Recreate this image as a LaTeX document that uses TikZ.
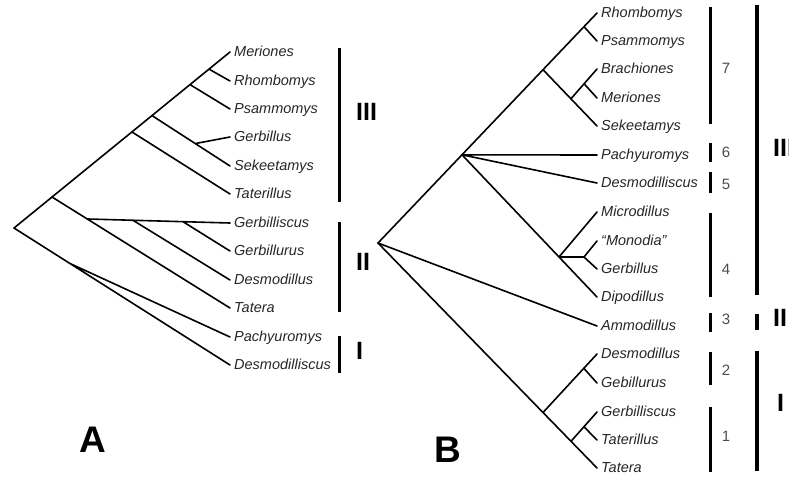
\documentclass[tikz,border=0pt]{standalone}
\usepackage{fontspec}
\setmainfont{Liberation Sans}
\usetikzlibrary{positioning}

\tikzset{
  branch/.style={line width=1.6pt, line cap=round},
  taxon/.style={anchor=west, inner xsep=4pt, inner ysep=0pt, text height=11pt, text depth=2pt,
    black!85, font=\fontsize{14.5}{16}\selectfont\itshape},
  cladebar/.style={line width=3pt},
  bigbar/.style={line width=4.5pt},
  cladename/.style={anchor=west, inner sep=0pt, font=\fontsize{25}{28}\selectfont\bfseries},
  groupnum/.style={inner sep=0pt, black!70, font=\fontsize{15}{17}\selectfont},
  panel/.style={inner sep=0pt, font=\fontsize{37}{40}\selectfont\bfseries}
}

\begin{document}
\begin{tikzpicture}[x=1pt, y=-1pt]
  \path[use as bounding box, clip] (0,0) rectangle (789,477);

  % Tree A: taxa
  \node[taxon] (aMer) at (230,52) {Meriones};
  \node[taxon] (aRho) at (230,81) {Rhombomys};
  \node[taxon] (aPsa) at (230,109) {Psammomys};
  \node[taxon] (aGer) at (230,137) {Gerbillus};
  \node[taxon] (aSek) at (230,166) {Sekeetamys};
  \node[taxon] (aTtl) at (230,194) {Taterillus};
  \node[taxon] (aGbs) at (230,223) {Gerbilliscus};
  \node[taxon] (aGbr) at (230,251) {Gerbillurus};
  \node[taxon] (aDes) at (230,280) {Desmodillus};
  \node[taxon] (aTat) at (230,308) {Tatera};
  \node[taxon] (aPac) at (230,337) {Pachyuromys};
  \node[taxon] (aDsc) at (230,365) {Desmodilliscus};

  % Tree A: joints
  \coordinate (A0) at (14,228);
  \coordinate (A1) at (52,197);
  \coordinate (A2) at (88,219);
  \coordinate (A3) at (133,220.3);
  \coordinate (A4) at (183,221.7);
  \coordinate (A5) at (132,132);
  \coordinate (A6) at (152,115.6);
  \coordinate (A7) at (195,143.6);
  \coordinate (A8) at (190,84.6);
  \coordinate (A9) at (209,69.1);
  \coordinate (A10) at (70,263.5);

  \draw[branch] (A0) -- (aMer.west) (A9) -- (aRho.west) (A8) -- (aPsa.west)
    (A6) -- (aSek.west) (A7) -- (aGer.west) (A5) -- (aTtl.west);
  \draw[branch] (A1) -- (aTat.west) (A2) -- (aGbs.west) (A3) -- (aDes.west)
    (A4) -- (aGbr.west);
  \draw[branch] (A0) -- (aDsc.west) (A10) -- (aPac.west);

  % Tree A: clades
  \draw[cladebar] (339,48) -- (339,202);
  \draw[cladebar] (339,222) -- (339,312);
  \draw[cladebar] (339,336) -- (339,373);
  \node[cladename] (aIII) at (356,112) {III};
  \node[cladename] (aII) at (356,262) {II};
  \node[cladename] (aI) at (356,351) {I};
  \node[panel] (panA) at (93,440) {A};

  % Tree B: taxa
  \node[taxon] (bRho) at (597,13) {Rhombomys};
  \node[taxon] (bPsa) at (597,41) {Psammomys};
  \node[taxon] (bBra) at (597,69) {Brachiones};
  \node[taxon] (bMer) at (597,98) {Meriones};
  \node[taxon] (bSek) at (597,126) {Sekeetamys};
  \node[taxon] (bPac) at (597,155) {Pachyuromys};
  \node[taxon] (bDsc) at (597,183) {Desmodilliscus};
  \node[taxon] (bMic) at (597,212) {Microdillus};
  \node[taxon] (bMon) at (597,241) {“Monodia”};
  \node[taxon] (bGer) at (597,269) {Gerbillus};
  \node[taxon] (bDip) at (597,297) {Dipodillus};
  \node[taxon] (bAmm) at (597,326) {Ammodillus};
  \node[taxon] (bDes) at (597,354) {Desmodillus};
  \node[taxon] (bGbr) at (597,383) {Gebillurus};
  \node[taxon] (bGbs) at (597,412) {Gerbilliscus};
  \node[taxon] (bTtl) at (597,440) {Taterillus};
  \node[taxon] (bTat) at (597,468) {Tatera};

  % Tree B: joints
  \coordinate (B0) at (378,243);
  \coordinate (B1) at (462,154.8);
  \coordinate (B2) at (543,69.7);
  \coordinate (B3) at (584,26.7);
  \coordinate (B4) at (571,98.7);
  \coordinate (B5) at (584,83.7);
  \coordinate (B6) at (559,257);
  \coordinate (B7) at (584,257);
  \coordinate (B8) at (543,412.5);
  \coordinate (B9) at (584,368.5);
  \coordinate (B10) at (571,441.3);
  \coordinate (B11) at (584,426.8);

  \draw[branch] (B0) -- (bRho.west) (B3) -- (bPsa.west) (B2) -- (bSek.west)
    (B4) -- (bBra.west) (B5) -- (bMer.west);
  \draw[branch] (B1) -- (bPac.west) (B1) -- (bDsc.west) (B1) -- (bDip.west)
    (B6) -- (bMic.west) (B6) -- (B7) (B7) -- (bMon.west) (B7) -- (bGer.west);
  \draw[branch] (B0) -- (bAmm.west);
  \draw[branch] (B0) -- (bTat.west) (B8) -- (bDes.west) (B9) -- (bGbr.west)
    (B10) -- (bGbs.west) (B11) -- (bTtl.west);

  % Tree B: numbered groups
  \draw[cladebar] (710,7) -- (710,124);
  \draw[cladebar] (710,143) -- (710,162);
  \draw[cladebar] (710,172) -- (710,193);
  \draw[cladebar] (710,213) -- (710,297);
  \draw[cladebar] (710,313) -- (710,332);
  \draw[cladebar] (710,352) -- (710,385);
  \draw[cladebar] (710,407) -- (710,472);
  \node[groupnum] (g7) at (726,68) {7};
  \node[groupnum] (g6) at (726,152) {6};
  \node[groupnum] (g5) at (726,184) {5};
  \node[groupnum] (g4) at (726,269) {4};
  \node[groupnum] (g3) at (726,319) {3};
  \node[groupnum] (g2) at (726,370) {2};
  \node[groupnum] (g1) at (726,436) {1};

  % Tree B: clades
  \draw[bigbar] (757,5) -- (757,295);
  \draw[bigbar] (757,314) -- (757,330);
  \draw[bigbar] (757,351) -- (757,471);
  \node[cladename] (bIII) at (773,148) {III};
  \node[cladename] (bII) at (773,318) {II};
  \node[cladename] (bI) at (777,403) {I};
  \node[panel] (panB) at (448,450) {B};
\end{tikzpicture}
\end{document}
